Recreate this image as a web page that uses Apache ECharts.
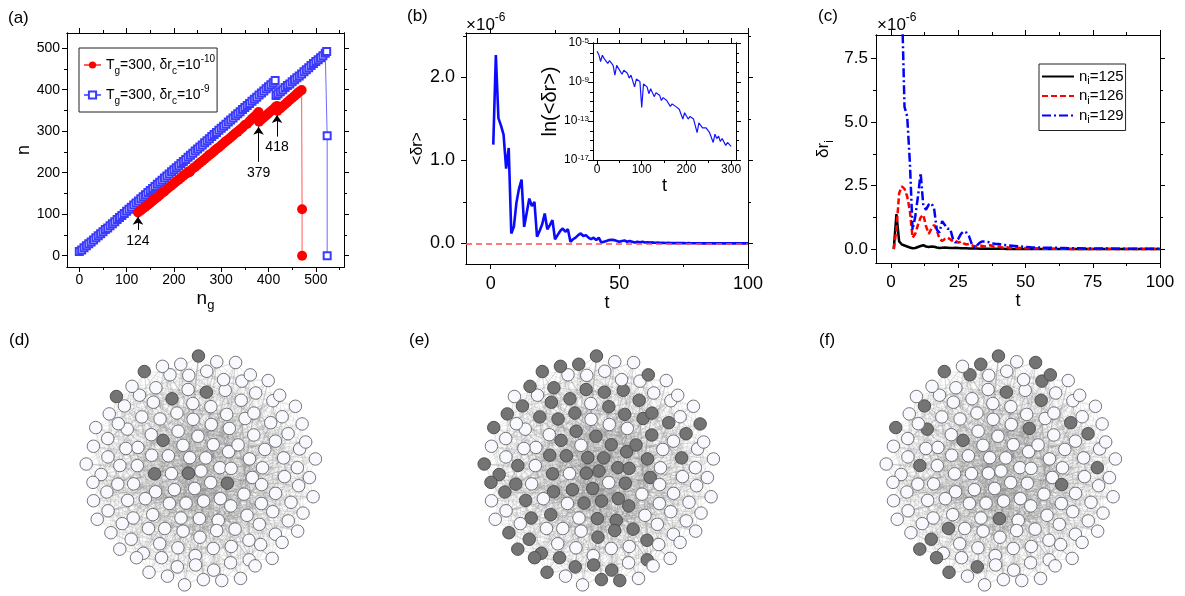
<!DOCTYPE html>
<html>
<head>
<meta charset="utf-8">
<script src="https://cdn.jsdelivr.net/npm/echarts@6/dist/echarts.min.js"></script>
<style>
html, body { margin: 0; background: #fff; }
#main { width: 1185px; height: 596px; }
</style>
</head>
<body>
<div id="main"></div>
<script>
// (a) n vs n_g, readings [ng, n]
var redA = [[124,104],[130,109],[135,114],[140,118],[145,123],[150,127],[155,132],[160,137],[165,141],[170,146],[175,151],[180,155],[185,160],[190,165],[195,169],[200,174],[205,179],[210,183],[215,188],[220,193],[225,197],[230,202],[233,201],[235,205],[240,210],[245,214],[250,219],[255,224],[260,228],[265,233],[270,238],[275,243],[280,247],[285,252],[290,257],[295,261],[300,266],[305,271],[310,276],[315,280],[320,285],[325,290],[330,295],[335,299],[340,304],[345,309],[350,315],[355,318],[360,324],[365,330],[370,335],[375,341],[379,346],[380,323],[385,328],[390,333],[395,338],[400,343],[405,348],[410,353],[415,358],[418,361],[419,349],[425,355],[430,360],[435,365],[440,370],[445,375],[450,380],[455,385],[460,390],[465,395],[470,399],[471,112],[471,0]];
var blueA = [[0,10],[5,14],[10,19],[15,24],[20,29],[25,33],[30,38],[35,43],[40,48],[45,53],[50,58],[55,63],[60,67],[65,72],[70,77],[75,82],[80,87],[85,92],[90,97],[95,102],[100,107],[105,112],[110,117],[115,122],[120,127],[125,132],[130,137],[135,142],[140,147],[145,152],[150,157],[155,162],[160,167],[165,172],[170,177],[175,182],[180,187],[185,192],[190,197],[195,202],[200,207],[205,212],[210,217],[215,222],[220,227],[225,232],[230,237],[235,242],[240,247],[245,252],[250,257],[255,262],[260,267],[265,272],[270,277],[275,282],[280,287],[285,292],[290,297],[295,302],[300,307],[305,312],[310,317],[315,322],[320,327],[325,332],[330,337],[335,342],[340,347],[345,352],[350,357],[355,362],[360,367],[365,372],[370,377],[375,382],[380,387],[385,392],[390,397],[395,402],[400,407],[405,412],[410,417],[414,422],[416,386],[420,390],[425,395],[430,400],[435,405],[440,410],[445,414],[450,419],[455,424],[460,429],[465,433],[470,438],[475,443],[480,448],[485,453],[490,458],[495,463],[500,468],[505,472],[510,477],[515,482],[520,488],[523,492],[524,289],[524,0]];
var arrowsA = [[124, 62, 94, '124'], [379, 226, 311, '379'], [418, 287, 339, '418']];

// (b) <δr> (x1e-6) for t = 1..100
var tB = [];
var meanB = [1.19,2.27,1.51,1.42,1.31,0.90,1.15,0.12,0.20,0.49,0.66,0.77,0.20,0.37,0.54,0.45,0.50,0.08,0.15,0.23,0.36,0.17,0.22,0.28,0.05,0.10,0.15,0.18,0.14,0.17,0.02,0.05,0.07,0.10,0.12,0.09,0.10,0.07,0.05,0.07,0.04,0.07,0.01,0.02,0.03,0.04,0.045,0.04,0.03,0.02,0.03,0.035,0.02,0.03,0.02,0.01,0.02,0.015,0.02,0.01,0.015,0.01,0.012,0.008,0.01,0.006,0.008,0.005,0.006,0.004,0.005,0.004,0.003,0.004,0.003,0.002,0.003,0.002,0.002,0.002,0.001,0.002,0.001,0.001,0.001,0.001,0.001,0.001,0.0,0.001,0.0,0.0,0.0,0.0,0.0,0.0,0.0,0.0,0.0,0.0];
for (var i = 0; i < meanB.length; i++) tB.push(i + 1);
// inset: t and log10(<δr>)
var tIn = [0,4,8,12,16,20,24,28,32,36,40,44,48,52,56,60,64,68,72,76,80,84,88,92,96,100,104,108,112,116,120,124,128,132,136,140,144,148,152,156,160,164,168,172,176,180,184,188,192,196,200,204,208,212,216,220,224,228,232,236,240,244,248,252,256,260,264,268,272,276,280,284,288,292,296,300];
var expIn = [-5.85,-6.2,-6.9,-6.25,-6.6,-6.5,-7.1,-6.8,-7.0,-7.3,-8.3,-7.3,-7.6,-7.5,-8.2,-7.8,-8.0,-8.1,-8.6,-8.3,-8.5,-9.5,-8.7,-8.9,-8.95,-11.6,-9.2,-9.4,-9.5,-10.2,-9.7,-9.85,-10.5,-10.1,-10.3,-10.35,-10.9,-10.6,-10.75,-10.9,-11.0,-11.5,-11.25,-11.4,-11.5,-11.65,-11.8,-11.9,-12.8,-12.15,-12.3,-12.8,-12.55,-12.65,-12.8,-12.9,-14.2,-13.2,-13.3,-13.7,-13.55,-13.7,-13.8,-14.2,-14.05,-15.2,-14.35,-14.8,-14.55,-15.1,-14.8,-15.0,-15.5,-15.2,-15.4,-15.6];

// (c) δr_i (x1e-6) for t = 1..100
var d125 = [0,1.38,0.3,0.18,0.14,0.1,0.06,0.03,0.04,0.08,0.12,0.15,0.1,0.08,0.1,0.09,0.06,0.04,0.05,0.06,0.05,0.04,0.04,0.05,0.04,0.03,0.03,0.03,0.02,0.025,0.02,0.02,0.015,0.02,0.015,0.01,0.015,0.01,0.01,0.01,0.008,0.008,0.006,0.006,0.005,0.005,0.004,0.004,0.003,0.003,0.003,0.002,0.002,0.002,0.002,0.001,0.001,0.001,0.001,0.001,0,0,0,0,0,0,0,0,0,0,0,0,0,0,0,0,0,0,0,0,0,0,0,0,0,0,0,0,0,0,0,0,0,0,0,0,0,0,0,0];
var d126 = [0,0.76,2.2,2.47,2.37,2.07,1.5,0.45,0.6,0.95,1.25,1.35,0.9,0.6,0.8,0.95,0.75,0.4,0.32,0.4,0.45,0.38,0.3,0.33,0.25,0.3,0.22,0.18,0.2,0.15,0.1,0.12,0.14,0.12,0.1,0.13,0.15,0.1,0.08,0.1,0.07,0.06,0.07,0.05,0.06,0.04,0.05,0.04,0.03,0.04,0.03,0.03,0.02,0.03,0.02,0.02,0.015,0.02,0.015,0.01,0.012,0.01,0.01,0.008,0.008,0.006,0.006,0.005,0.005,0.004,0.004,0.003,0.003,0.003,0.002,0.002,0.002,0.002,0.001,0.001,0.001,0.001,0.001,0.001,0.001,0,0,0,0,0,0,0,0,0,0,0,0,0,0,0];
var t129 = [4,5,6,7,8,9,10,11,12,13,14,15,16,17,18,19,20,21,22,23,24,25,26,27,28,29,30,31,32,33,34,35,36,37,38,39,40,42,44,46,48,50,52,55,58,61,64,67,70,75,80,85,90,95,100];
var d129 = [9.8,5.6,5.22,3.4,0.76,1.28,2.07,3.0,1.7,1.55,1.75,1.8,1.6,0.76,0.65,1.1,0.95,0.8,0.8,0.4,0.25,0.4,0.6,0.7,0.65,0.5,0.2,0.05,0.15,0.25,0.3,0.3,0.28,0.25,0.22,0.2,0.2,0.16,0.14,0.12,0.1,0.08,0.07,0.06,0.05,0.05,0.04,0.03,0.03,0.02,0.02,0.015,0.01,0.01,0.01];

// (d)-(f) networks: ring sizes of the node layout, links and grey nodes (positions read, disk radius = 1)
var ringFrac = [0, 0.14, 0.28, 0.42, 0.56, 0.70, 0.84, 0.96];
var ringCount = [1, 6, 12, 17, 23, 28, 34, 38];
var ringTurn = [0, 10, 5, 14, 3, 9, 2, 6];
var ringWobble = [0, 0.025, -0.02, 0.01, -0.03, 0.02, -0.01, 0.03, -0.025];
var linkSteps = [7, 19, 33, 52, 71, 96];
var grayD = [[0.00,0.95],[-0.48,0.85],[-0.72,0.59],[-0.18,0.61],[0.09,0.66],[-0.37,0.23],[-0.38,0.01],[-0.17,-0.03],[0.24,-0.12]];
var grayE = [[-0.15,0.94],[0.00,0.95],[-0.31,0.90],[-0.48,0.85],[0.50,0.82],[-0.66,0.72],[-0.37,0.71],[-0.06,0.74],[0.24,0.74],[0.09,0.65],[-0.71,0.58],[-0.19,0.61],[-0.37,0.55],[0.27,0.58],[0.47,0.57],[-0.52,0.48],[-0.82,0.45],[-0.22,0.45],[0.09,0.48],[0.24,0.43],[0.39,0.42],[0.80,0.45],[0.64,0.36],[-0.38,0.38],[-0.04,0.36],[-0.91,0.31],[-0.20,0.29],[0.16,0.30],[0.49,0.31],[0.78,0.27],[-0.37,0.22],[0.05,0.22],[0.35,0.22],[-0.12,0.16],[-0.96,0.08],[-0.66,0.11],[-0.49,0.12],[-0.26,0.09],[0.19,0.14],[0.49,0.13],[0.64,0.03],[-0.01,0.07],[-0.38,0.01],[0.28,0.03],[-0.80,-0.02],[-0.17,-0.03],[0.11,-0.01],[0.42,-0.01],[-0.94,-0.10],[-0.66,-0.09],[0.00,-0.10],[0.24,-0.13],[-0.80,-0.22],[-0.31,-0.18],[-0.17,-0.16],[-0.03,-0.24],[0.13,-0.22],[-0.64,-0.27],[0.33,-0.31],[-0.52,-0.37],[-0.37,-0.36],[-0.18,-0.32],[0.19,-0.36],[0.31,-0.48],[-0.09,-0.45],[-0.79,-0.55],[-0.58,-0.54],[0.12,-0.53],[0.36,-0.62],[-0.69,-0.67],[-0.46,-0.68],[-0.29,-0.68],[0.01,-0.65],[-0.61,-0.81],[-0.45,-0.85],[-0.22,-0.83],[-0.07,-0.78],[0.10,-0.80],[0.36,-0.79],[0.25,-0.91],[0.11,-0.99]];
var grayF = [[-0.15,0.93],[0.01,0.94],[-0.48,0.83],[0.34,0.88],[0.50,0.80],[-0.21,0.76],[0.40,0.71],[0.09,0.64],[0.27,0.57],[-0.71,0.58],[0.61,0.51],[-0.65,0.41],[0.24,0.42],[-0.91,0.30],[0.79,0.27],[-0.37,0.21],[-0.66,0.11],[0.81,0.08],[0.57,-0.12],[0.04,-0.38],[-0.57,-0.53],[-0.40,-0.52],[-0.69,-0.67],[-0.60,-0.80],[-0.44,-0.83],[-0.22,-0.83]];

var FONT = 'Liberation Sans';
var xAxes = [], yAxes = [];

// main axis with labels + minor ticks + mirrored axis on the opposite side
function axisSet(list, gi, o, side, mirror) {
  var first = list.length;
  function one(pos, ticks, len, withLabel) {
    var a = {
      type: o.log ? 'log' : 'value', logBase: 10, gridIndex: gi, min: o.min, max: o.max, position: pos,
      splitLine: { show: false }, silent: true,
      axisLine: { show: true, onZero: false, lineStyle: { color: '#000', width: 1 } },
      axisTick: { show: ticks.length > 0, inside: false, length: len, customValues: ticks, lineStyle: { color: '#000', width: 1 } },
      axisLabel: { show: false }
    };
    if (withLabel) {
      a.axisLabel = { show: true, customValues: o.major, formatter: o.fmt, margin: o.margin,
        color: '#000', fontFamily: FONT, fontSize: o.fontSize, rich: o.rich };
      if (o.name) {
        a.name = o.name; a.nameLocation = 'middle'; a.nameGap = o.nameGap;
        a.nameTextStyle = { color: '#000', fontFamily: FONT, fontSize: o.nameSize, rich: o.nameRich };
      }
    }
    list.push(a);
  }
  one(side, o.major, 5, true);
  one(side, o.minor || [], 3, false);
  one(mirror, o.major, 5, false);
  one(mirror, o.minor || [], 3, false);
  return first;
}
var grids = [];
function plotBox(box, xo, yo) {
  var gi = grids.length;
  grids.push({ left: box[0], top: box[1], width: box[2], height: box[3], containLabel: false, backgroundColor: '#fff', show: true, borderWidth: 0 });
  return [axisSet(xAxes, gi, xo, 'bottom', 'top'), axisSet(yAxes, gi, yo, 'left', 'right')];
}
function fixed1(v) { return v.toFixed(1); }
function sup(v) { return '{b|10}{e|' + Math.round(Math.log10(v)) + '}'; }
var subRich = function (size, lh) {
  return {
    a: { fontSize: size, fontFamily: FONT, color: '#000', lineHeight: lh || size + 8 },
    s: { fontSize: Math.round(size * 0.7), fontFamily: FONT, color: '#000', verticalAlign: 'bottom', lineHeight: 11 },
    p: { fontSize: Math.round(size * 0.7), fontFamily: FONT, color: '#000', verticalAlign: 'top', lineHeight: 11 }
  };
};

var axA = plotBox([67, 33, 277, 234],
  { min: -26, max: 559.6, major: [0,100,200,300,400,500], minor: [50,150,250,350,450,550], fontSize: 14, margin: 6,
    name: '{a|n}{s|g}', nameGap: 18, nameSize: 19, nameRich: subRich(19) },
  { min: -27.2, max: 536.6, major: [0,100,200,300,400,500], minor: [50,150,250,350,450], fontSize: 14, margin: 7,
    name: 'n', nameGap: 34, nameSize: 18 });
var axB = plotBox([466, 33, 282, 231],
  { min: -9.6, max: 100, major: [0,50,100], minor: [25,75], fontSize: 18, margin: 11,
    name: 't', nameGap: 27, nameSize: 18 },
  { min: -0.248, max: 2.535, major: [0,1,2], minor: [0.5,1.5,2.5], fontSize: 18, margin: 11, fmt: fixed1,
    name: '<δr>', nameGap: 36, nameSize: 16 });
var axI = plotBox([593, 43, 143, 117],
  { min: -9, max: 311, major: [0,100,200,300], minor: [50,150,250], fontSize: 12, margin: 4,
    name: 't', nameGap: 13, nameSize: 18 },
  { log: true, min: 1e-17, max: 1e-5, major: [1e-17,1e-13,1e-9,1e-5],
    minor: [1e-16,1e-15,1e-14,1e-12,1e-11,1e-10,1e-8,1e-7,1e-6], fontSize: 12, margin: 4, fmt: sup,
    rich: { b: { fontSize: 12, fontFamily: FONT, color: '#000' }, e: { fontSize: 8, fontFamily: FONT, color: '#000', verticalAlign: 'top', lineHeight: 8 } },
    name: 'ln(<δr>)', nameGap: 27, nameSize: 20 });
var axC = plotBox([876, 35, 284, 228],
  { min: -5.6, max: 100, major: [0,25,50,75,100], minor: [12.5,37.5,62.5,87.5], fontSize: 17, margin: 11,
    name: 't', nameGap: 24, nameSize: 18 },
  { min: -0.55, max: 8.43, major: [0,2.5,5,7.5], minor: [1.25,3.75,6.25], fontSize: 17, margin: 8, fmt: fixed1,
    name: '{a|δr}{s|i}', nameGap: 40, nameSize: 17, nameRich: subRich(17) });

// network panels on hidden square grids
var netCenters = [201, 599, 1001];
var netAxes = netCenters.map(function (cx) {
  var gi = grids.length;
  grids.push({ left: cx - 122, top: 349, width: 244, height: 244, show: false });
  var xi = xAxes.length, yi = yAxes.length;
  xAxes.push({ type: 'value', gridIndex: gi, min: -1.05, max: 1.05, show: false });
  yAxes.push({ type: 'value', gridIndex: gi, min: -1.05, max: 1.05, show: false });
  return [xi, yi];
});
function network(k, gray) {
  var pts = [];
  ringCount.forEach(function (c, r) {
    for (var j = 0; j < c; j++) {
      var a = (ringTurn[r] + 360 * j / c) * Math.PI / 180;
      var rr = ringFrac[r] + (r > 0 ? ringWobble[(j + r) % ringWobble.length] : 0);
      pts.push([rr * Math.cos(a), rr * Math.sin(a)]);
    }
  });
  var dark = pts.map(function () { return false; });
  gray.forEach(function (g) {
    var best = -1, bd = 1e9;
    pts.forEach(function (p, i) {
      var d = (p[0] - g[0]) * (p[0] - g[0]) + (p[1] - g[1]) * (p[1] - g[1]);
      if (!dark[i] && d < bd) { bd = d; best = i; }
    });
    dark[best] = true;
  });
  var links = [];
  pts.forEach(function (p, i) {
    linkSteps.forEach(function (s) { links.push({ source: i, target: (i + s) % pts.length }); });
  });
  return {
    type: 'graph', coordinateSystem: 'cartesian2d', xAxisIndex: netAxes[k][0], yAxisIndex: netAxes[k][1],
    silent: true, symbolSize: 12.5,
    data: pts.map(function (p, i) {
      return { value: p, itemStyle: dark[i]
        ? { color: '#747474', borderColor: '#484848', borderWidth: 0.9 }
        : { color: '#f7f9ff', borderColor: '#666', borderWidth: 0.9 } };
    }),
    links: links,
    lineStyle: { color: '#8c8c8c', width: 0.5, opacity: 0.38 }
  };
}

var legendNames = {
  a1: '{a|T}{s|g}{a|=300, δr}{s|c}{a|=10}{p|-10}',
  a2: '{a|T}{s|g}{a|=300, δr}{s|c}{a|=10}{p|-9}',
  c1: '{a|n}{s|i}{a|=125}', c2: '{a|n}{s|i}{a|=126}', c3: '{a|n}{s|i}{a|=129}'
};
function zip(xs, ys) { return xs.map(function (x, i) { return [x, ys[i]]; }); }

var chart = echarts.init(document.getElementById('main'), null, { renderer: 'canvas' });
chart.setOption({
  animation: false,
  backgroundColor: '#fff',
  grid: grids,
  xAxis: xAxes,
  yAxis: yAxes,
  legend: [
    { data: ['a1', 'a2'], left: 79, top: 48, orient: 'vertical', borderColor: '#222', borderWidth: 1,
      padding: [6, 2, 6, 4], itemWidth: 17, itemHeight: 9, itemGap: 8,
      formatter: function (n) { return legendNames[n]; },
      textStyle: { rich: subRich(14, 22) } },
    { data: ['c1', 'c2', 'c3'], left: 1039, top: 64, orient: 'vertical', borderColor: '#222', borderWidth: 1,
      padding: [5, 2, 5, 2], itemWidth: 32, itemHeight: 10, itemGap: 2,
      itemStyle: { opacity: 0 },
      formatter: function (n) { return legendNames[n]; },
      textStyle: { rich: subRich(15, 20) } }
  ],
  graphic: [
    { type: 'text', left: 8, top: 10, style: { text: '(a)', font: '17px ' + FONT, fill: '#000' } },
    { type: 'text', left: 407, top: 8, style: { text: '(b)', font: '17px ' + FONT, fill: '#000' } },
    { type: 'text', left: 818, top: 8, style: { text: '(c)', font: '17px ' + FONT, fill: '#000' } },
    { type: 'text', left: 9, top: 332, style: { text: '(d)', font: '17px ' + FONT, fill: '#000' } },
    { type: 'text', left: 409, top: 332, style: { text: '(e)', font: '17px ' + FONT, fill: '#000' } },
    { type: 'text', left: 819, top: 332, style: { text: '(f)', font: '17px ' + FONT, fill: '#000' } },
    { type: 'text', left: 466, top: 12, style: { text: '{a|×10}{p|-6}', rich: {
        a: { font: '17px ' + FONT, fill: '#000', lineHeight: 22, verticalAlign: 'bottom' },
        p: { font: '12px ' + FONT, fill: '#000', verticalAlign: 'top', lineHeight: 12 } } } },
    { type: 'text', left: 877, top: 12, style: { text: '{a|×10}{p|-6}', rich: {
        a: { font: '17px ' + FONT, fill: '#000', lineHeight: 22, verticalAlign: 'bottom' },
        p: { font: '12px ' + FONT, fill: '#000', verticalAlign: 'top', lineHeight: 12 } } } }
  ],
  series: [
    { name: 'a2', type: 'line', xAxisIndex: axA[0], yAxisIndex: axA[1], data: blueA,
      symbol: 'emptyRect', symbolSize: 7, itemStyle: { color: '#3a3aff', borderWidth: 1 },
      lineStyle: { color: '#6a6aff', width: 1 } },
    { name: 'a1', type: 'line', xAxisIndex: axA[0], yAxisIndex: axA[1], data: redA,
      symbol: 'circle', symbolSize: 10, itemStyle: { color: '#ff0000' },
      lineStyle: { color: '#ff5a5a', width: 1 },
      markLine: { silent: true, symbol: ['none', 'arrow'], symbolSize: 8, animation: false,
        lineStyle: { color: '#000', width: 1, type: 'solid' },
        label: { show: true, position: 'start', formatter: '{b}', color: '#000', fontFamily: FONT, fontSize: 14, distance: 4 },
        data: arrowsA.map(function (a) { return [{ name: a[3], coord: [a[0], a[1]] }, { coord: [a[0], a[2]] }]; }) } },
    { name: 'meanB', type: 'line', xAxisIndex: axB[0], yAxisIndex: axB[1], data: zip(tB, meanB),
      symbol: 'none', lineStyle: { color: '#0a0aff', width: 2.6 },
      markLine: { silent: true, symbol: 'none', label: { show: false },
        lineStyle: { color: '#ff4d4d', type: [6, 4], width: 1.5 }, data: [{ yAxis: 0 }] } },
    { name: 'inset', type: 'line', xAxisIndex: axI[0], yAxisIndex: axI[1],
      data: tIn.map(function (t, i) { return [t, Math.pow(10, expIn[i])]; }),
      symbol: 'none', lineStyle: { color: '#1414ff', width: 1.2 } },
    { name: 'c1', type: 'line', xAxisIndex: axC[0], yAxisIndex: axC[1], data: zip(tB, d125),
      symbol: 'none', itemStyle: { color: '#000' }, lineStyle: { color: '#000', width: 2.5 } },
    { name: 'c2', type: 'line', xAxisIndex: axC[0], yAxisIndex: axC[1], data: zip(tB, d126),
      symbol: 'none', itemStyle: { color: '#ff0000' }, lineStyle: { color: '#ff0000', width: 2.5, type: [6, 3] } },
    { name: 'c3', type: 'line', xAxisIndex: axC[0], yAxisIndex: axC[1], data: zip(t129, d129),
      symbol: 'none', itemStyle: { color: '#0000ff' }, lineStyle: { color: '#0000ff', width: 2.5, type: [9, 3, 2, 3] } },
    network(0, grayD),
    network(1, grayE),
    network(2, grayF)
  ]
});
</script>
</body>
</html>
